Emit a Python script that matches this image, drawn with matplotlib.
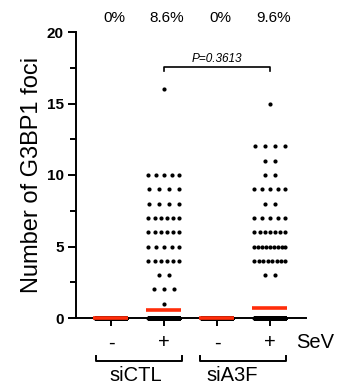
import numpy as np
import matplotlib
matplotlib.use("Agg")
import matplotlib.pyplot as plt
from matplotlib import transforms

plt.rcParams['font.family'] = ['Liberation Sans', 'DejaVu Sans']

# ---------------- data ----------------
groups = ["siCTL -", "siCTL +", "siA3F -", "siA3F +"]
sev_labels = ["-", "+", "-", "+"]
pct_labels = ["0%", "8.6%", "0%", "9.6%"]
sirna_labels = ["siCTL", "siA3F"]
p_text = "P=0.3613"

# foci value levels and number of cells at each level
ctl_neg_levels = [0]
ctl_neg_counts = [480]
ctl_pos_levels = [0, 1, 2, 3, 4, 5, 6, 7, 8, 9, 10, 16]
ctl_pos_counts = [457, 1, 3, 2, 6, 5, 6, 6, 4, 4, 5, 1]
a3f_neg_levels = [0]
a3f_neg_counts = [470]
a3f_pos_levels = [0, 3, 4, 5, 6, 7, 8, 9, 10, 11, 12, 15]
a3f_pos_counts = [443, 2, 8, 9, 7, 5, 2, 5, 2, 2, 4, 1]

levels = [ctl_neg_levels, ctl_pos_levels, a3f_neg_levels, a3f_pos_levels]
counts = [ctl_neg_counts, ctl_pos_counts, a3f_neg_counts, a3f_pos_counts]

RED = '#FF2D0A'

fig = plt.figure(figsize=(3.49, 3.85), dpi=100)
W, H = 349, 385
ax = fig.add_axes([76 / W, 1 - 318 / H, (306 - 76) / W, (318 - 32) / H])
ax.set_xlim(-0.66, 3.68)
ax.set_ylim(0, 20)

px_per_unit = 53.0
max_step = 10 / px_per_unit
max_span = 31 / px_per_unit

for gi, (lv, ct) in enumerate(zip(levels, counts)):
    vals = np.repeat(lv, ct)
    xs, ys = [], []
    for v, n in zip(lv, ct):
        if n == 1:
            offs = np.array([0.0])
        else:
            step = min(max_step, max_span / (n - 1))
            offs = (np.arange(n) - (n - 1) / 2) * step
        xs.extend(gi + offs)
        ys.extend([v] * n)
    ax.scatter(xs, ys, s=9, color='black', linewidths=0, clip_on=False, zorder=3)
    m = vals.mean()
    ax.plot([gi - 0.33, gi + 0.33], [m, m], color=RED, lw=2.6,
            solid_capstyle='butt', clip_on=False, zorder=4)

for s in ['top', 'right']:
    ax.spines[s].set_visible(False)
for s in ['left', 'bottom']:
    ax.spines[s].set_linewidth(1.4)

ax.set_yticks([0, 5, 10, 15, 20])
ax.set_yticks([2.5, 7.5, 12.5, 17.5], minor=True)
ax.tick_params(axis='y', which='major', length=6, width=1.4, labelsize=11, pad=3)
ax.tick_params(axis='y', which='minor', length=4, width=1.4)
for t in ax.get_yticklabels():
    t.set_fontweight('bold')

ax.set_xticks(range(4))
ax.set_xticklabels(sev_labels, fontsize=14.5)
ax.tick_params(axis='x', which='major', length=6, width=1.4, pad=5)

ax.set_ylabel("Number of G3BP1 foci", fontsize=17)
ax.yaxis.set_label_coords(-0.145, 0.5)

trans = transforms.blended_transform_factory(ax.transData, fig.transFigure)

# percent labels
for i, t in enumerate(pct_labels):
    fig.text(i + 0.06, 1 - 17.5 / H, t, transform=trans, ha='center', va='center', fontsize=11)

# SeV label
fig.text(3.5, 1 - 343 / H, "SeV", transform=trans, ha='left', va='center', fontsize=14.5)

# group brackets
brackets = [(-0.28, 1.34), (1.68, 3.30)]
yb = 1 - 361 / H
ye = 1 - 356 / H
for (x0, x1), lab in zip(brackets, sirna_labels):
    ax.plot([x0, x0, x1, x1], [ye, yb, yb, ye], color='black', lw=1.4,
            transform=trans, clip_on=False)
fig.text(0.47, 0.001, sirna_labels[0], transform=trans, ha='center', va='bottom', fontsize=14.5)
fig.text(2.28, 0.001, sirna_labels[1], transform=trans, ha='center', va='bottom', fontsize=14.5)

# p-value bracket
ax.plot([1, 1, 3, 3], [17.27, 17.55, 17.55, 17.27], color='black', lw=1.2, clip_on=False)
ax.text(2.0, 17.7, p_text, ha='center', va='bottom', fontsize=8.5, style='italic')

fig.savefig("out.png", dpi=100)
